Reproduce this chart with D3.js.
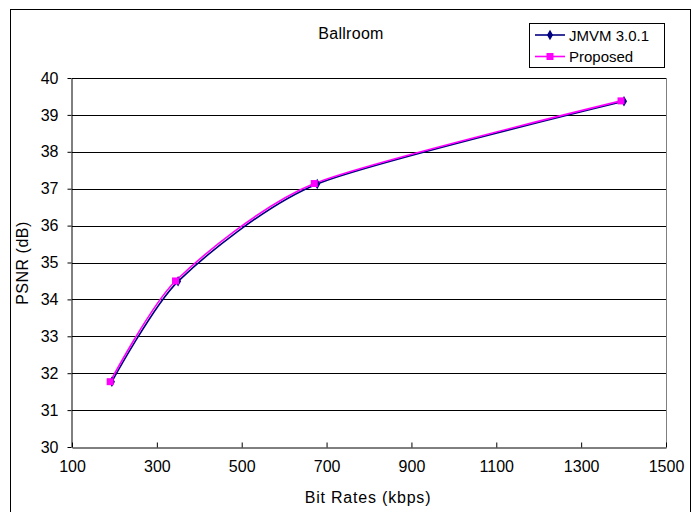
<!DOCTYPE html>
<html><head><meta charset="utf-8">
<script src="https://cdn.jsdelivr.net/npm/d3@7"></script>
<style>body{margin:0;background:#fff}svg text{font-family:"Liberation Sans",Arial,sans-serif;fill:#000}</style>
</head><body><svg id="c" width="693" height="512"></svg>
<script>
const title = "Ballroom";
const xTicks = [100,300,500,700,900,1100,1300,1500];
const yTicks = [30,31,32,33,34,35,36,37,38,39,40];
const jmvmRates = [194, 350, 678, 1401];
const jmvmPsnr = [31.77, 34.49, 37.13, 39.37];
const propRates = [190, 344, 671, 1394];
const propPsnr = [31.77, 34.50, 37.14, 39.38];
const seriesNames = ["JMVM 3.0.1", "Proposed"];
const colors = ["#000080", "#FF00FF"];

const svg = d3.select("#c");
svg.append("rect").attr("x",10.5).attr("y",9.5).attr("width",680).attr("height",510).attr("fill","#fff").attr("stroke","#000");
const x = d3.scaleLinear().domain([100,1500]).range([72,666]);
const y = d3.scaleLinear().domain([30,40]).range([447,78]);

svg.append("g").selectAll("line").data(yTicks.slice(1)).join("line")
  .attr("x1",72).attr("x2",666).attr("y1",d=>Math.round(y(d))+0.5).attr("y2",d=>Math.round(y(d))+0.5)
  .attr("stroke","#000").attr("stroke-width",1);
svg.append("line").attr("x1",666.5).attr("x2",666.5).attr("y1",78).attr("y2",447).attr("stroke","#808080");

const gx = svg.append("g").attr("transform","translate(0,447.5)")
  .call(d3.axisBottom(x).tickValues(xTicks).tickFormat(d3.format("d")).tickSizeInner(-5).tickSizeOuter(0).tickPadding(13));
const gy = svg.append("g").attr("transform","translate(71.5,0)")
  .call(d3.axisLeft(y).tickValues(yTicks).tickFormat(d3.format("d")).tickSizeInner(4).tickSizeOuter(0).tickPadding(9));
[gx,gy].forEach(g=>{g.select(".domain").attr("stroke","#000");g.selectAll("text").attr("font-size",16).attr("fill","#222");g.selectAll("line").attr("stroke","#000");});
gx.selectAll("text").attr("dy","0.71em");

svg.append("text").attr("x",351).attr("y",39).attr("text-anchor","middle").attr("font-size",16).attr("letter-spacing",0.3).attr("fill","#222").text(title);
svg.append("text").attr("x",368).attr("y",503).attr("text-anchor","middle").attr("font-size",16).attr("letter-spacing",0.8).attr("fill","#222").text("Bit Rates (kbps)");
svg.append("text").attr("transform","translate(28,263) rotate(-90)").attr("text-anchor","middle").attr("font-size",16).attr("letter-spacing",0.5).attr("fill","#222").text("PSNR (dB)");

const line = d3.line().x(d=>x(d[0])).y(d=>y(d[1])).curve(d3.curveCardinal.tension(0.3));
const data = [d3.zip(jmvmRates,jmvmPsnr), d3.zip(propRates,propPsnr)];
data.forEach((pts,i)=>{
  svg.append("path").attr("d",line(pts)).attr("fill","none").attr("stroke",colors[i]).attr("stroke-width",1.6);
});
const diamond = d3.symbol().type(d3.symbolDiamond).size(32);
svg.append("g").selectAll("path").data(data[0]).join("path").attr("d",diamond)
  .attr("transform",d=>`translate(${x(d[0])},${y(d[1])})`).attr("fill",colors[0]);
svg.append("g").selectAll("rect").data(data[1]).join("rect")
  .attr("x",d=>x(d[0])-3.5).attr("y",d=>y(d[1])-3.5).attr("width",7).attr("height",7).attr("fill",colors[1]);

const lg = svg.append("g");
lg.append("rect").attr("x",529.5).attr("y",23.5).attr("width",135).attr("height",44).attr("fill","#fff").attr("stroke","#000");
const ly = [35, 56.5];
seriesNames.forEach((n,i)=>{
  lg.append("line").attr("x1",535).attr("x2",565).attr("y1",ly[i]).attr("y2",ly[i]).attr("stroke",colors[i]).attr("stroke-width",1.6);
  if(i===0) lg.append("path").attr("d",diamond).attr("transform",`translate(550,${ly[i]})`).attr("fill",colors[0]);
  else lg.append("rect").attr("x",546.5).attr("y",ly[i]-3.5).attr("width",7).attr("height",7).attr("fill",colors[1]);
  lg.append("text").attr("x",569).attr("y",ly[i]+5.5).attr("font-size",15).attr("fill","#222").text(n);
});
</script></body></html>
